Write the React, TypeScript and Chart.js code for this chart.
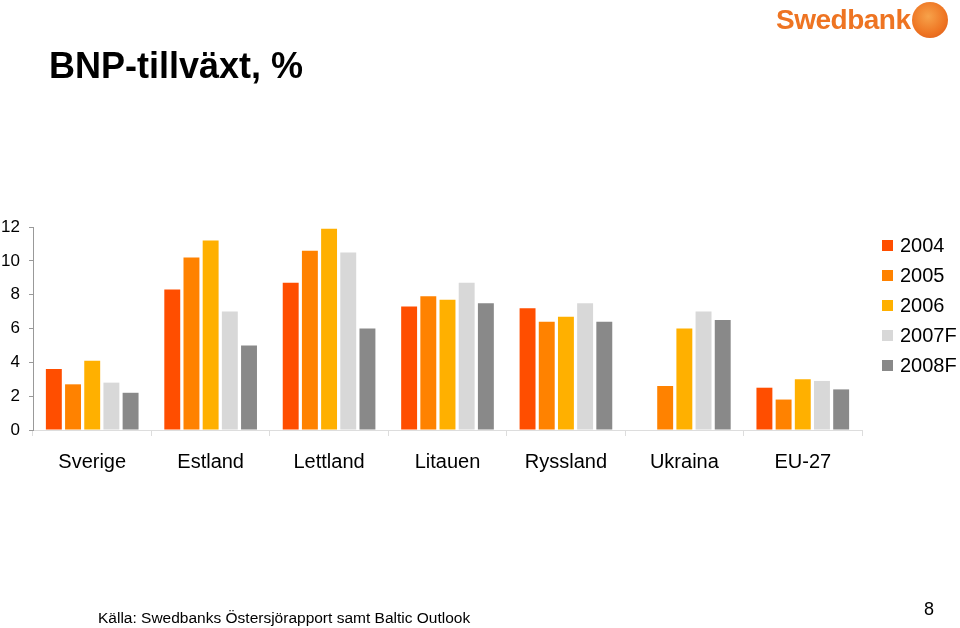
import React, { useEffect, useRef } from "react";
import { Chart, registerables } from "chart.js";

Chart.register(...registerables);

const categories = ["Sverige", "Estland", "Lettland", "Litauen", "Ryssland", "Ukraina", "EU-27"];
const seriesNames = ["2004", "2005", "2006", "2007F", "2008F"];
const v2004 = [3.6, 8.3, 8.7, 7.3, 7.2, null, 2.5];
const v2005 = [2.7, 10.2, 10.6, 7.9, 6.4, 2.6, 1.8];
const v2006 = [4.1, 11.2, 11.9, 7.7, 6.7, 6.0, 3.0];
const v2007 = [2.8, 7.0, 10.5, 8.7, 7.5, 7.0, 2.9];
const v2008 = [2.2, 5.0, 6.0, 7.5, 6.4, 6.5, 2.4];
const seriesValues = [v2004, v2005, v2006, v2007, v2008];
const seriesColors = ["#FF4E00", "#FF8200", "#FFB000", "#D8D8D8", "#898989"];
const yTicks = [0, 2, 4, 6, 8, 10, 12];

const FONT = "'Liberation Sans', Arial, Helvetica, sans-serif";

export default function App() {
  const ref = useRef<HTMLCanvasElement | null>(null);

  useEffect(() => {
    if (!ref.current) return;
    const chart = new Chart(ref.current, {
      type: "bar",
      data: {
        labels: categories,
        datasets: seriesNames.map((name, i) => ({
          label: name,
          data: seriesValues[i],
          backgroundColor: seriesColors[i],
          borderWidth: 0,
          categoryPercentage: 0.81,
          barPercentage: 0.83,
        })),
      },
      options: {
        animation: false,
        responsive: false,
        maintainAspectRatio: false,
        layout: { padding: { top: 227, right: 98, bottom: 148, left: 0 } },
        plugins: {
          legend: { display: false },
          tooltip: { enabled: false },
          title: { display: false },
        },
        scales: {
          x: {
            afterFit: (s: any) => {
              s.height = 50;
            },
            border: { display: true, color: "#DDDDDD", width: 1 },
            grid: {
              display: true,
              drawOnChartArea: false,
              drawTicks: true,
              tickLength: 6,
              color: "#DDDDDD",
              offset: true,
            },
            ticks: {
              color: "#000000",
              font: { family: FONT, size: 20 },
              padding: 14,
              maxRotation: 0,
              autoSkip: false,
            },
          },
          y: {
            min: 0,
            max: 12,
            afterFit: (s: any) => {
              s.width = 33;
            },
            afterBuildTicks: (s: any) => {
              s.ticks = yTicks.map((v) => ({ value: v }));
            },
            border: { display: true, color: "#999999", width: 1 },
            grid: {
              display: true,
              drawOnChartArea: false,
              drawTicks: true,
              tickLength: 4,
              color: "#999999",
            },
            ticks: {
              color: "#000000",
              font: { family: FONT, size: 17 },
              padding: 9,
              stepSize: 2,
            },
          },
        },
      },
    });
    return () => chart.destroy();
  }, []);

  return (
    <div
      style={{
        position: "fixed",
        left: 0,
        top: 0,
        width: 960,
        height: 628,
        background: "#ffffff",
        fontFamily: FONT,
        overflow: "hidden",
      }}
    >
      <canvas ref={ref} width={960} height={628} style={{ position: "absolute", left: 0, top: 0 }} />
      <div
        style={{
          position: "absolute",
          left: 49,
          top: 45,
          fontSize: 36,
          fontWeight: "bold",
          color: "#000",
          lineHeight: "42px",
          whiteSpace: "nowrap",
        }}
      >
        BNP-tillväxt, %
      </div>
      <div
        style={{
          position: "absolute",
          left: 776,
          top: 3,
          fontSize: 28,
          fontWeight: "bold",
          color: "#EE7422",
          lineHeight: "34px",
          letterSpacing: -0.5,
          whiteSpace: "nowrap",
        }}
      >
        Swedbank
      </div>
      <div
        style={{
          position: "absolute",
          left: 912,
          top: 2,
          width: 36,
          height: 36,
          borderRadius: "50%",
          background: "radial-gradient(circle at 45% 40%, #F7A24A 0%, #EE7422 60%, #D8561A 100%)",
        }}
      />
      {seriesNames.map((name, i) => (
        <div
          key={name}
          style={{
            position: "absolute",
            left: 882,
            top: 233 + i * 30,
            height: 24,
            display: "flex",
            alignItems: "center",
            whiteSpace: "nowrap",
          }}
        >
          <div style={{ width: 11, height: 11, background: seriesColors[i], marginRight: 7 }} />
          <span style={{ fontSize: 20, color: "#000", lineHeight: "24px" }}>{name}</span>
        </div>
      ))}
      <div
        style={{
          position: "absolute",
          left: 98,
          top: 608,
          fontSize: 15.5,
          color: "#000",
          lineHeight: "20px",
          whiteSpace: "nowrap",
        }}
      >
        Källa: Swedbanks Östersjörapport samt Baltic Outlook
      </div>
      <div
        style={{
          position: "absolute",
          left: 924,
          top: 598,
          fontSize: 18,
          color: "#000",
          lineHeight: "22px",
        }}
      >
        8
      </div>
    </div>
  );
}
